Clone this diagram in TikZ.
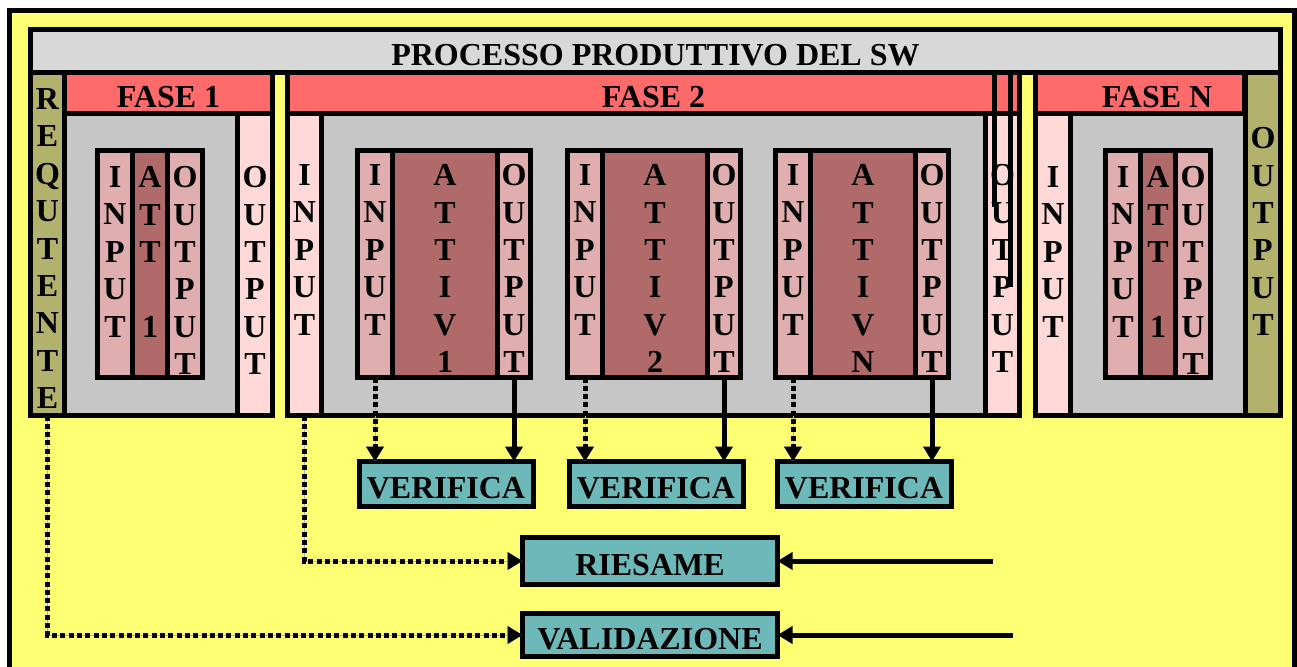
\documentclass[tikz,border=0pt]{standalone}
\usepackage{fontspec}
\setmainfont{Liberation Serif}
\usetikzlibrary{arrows.meta, positioning, calc}

\definecolor{giallo}{HTML}{FFFF73}
\definecolor{grigio}{HTML}{C6C6C6}
\definecolor{grigiochiaro}{HTML}{D8D8D8}
\definecolor{grigiolinea}{HTML}{B0B0B0}
\definecolor{rosso}{HTML}{FF6B6B}
\definecolor{rosachiaro}{HTML}{FFD8D8}
\definecolor{rosafitto}{HTML}{E0AEAE}
\definecolor{attiv}{HTML}{B06A6A}
\definecolor{oliva}{HTML}{B2B26C}
\definecolor{verde}{HTML}{6DB8B8}

\begin{document}
\begin{tikzpicture}[x=1pt, y=-1pt,
    box/.style={draw, line width=5pt, inner sep=0pt, outer sep=0pt, anchor=north west},
    etichetta/.style={font=\fontsize{32}{37.4}\selectfont\bfseries, text height=29pt, text depth=0pt},
    lettere/.style={font=\fontsize{32}{37.4}\selectfont\bfseries, align=center, anchor=north, inner sep=0pt},
    freccia/.style={line width=5pt, -{Triangle[length=15pt, width=17pt]}},
    puntini/.style={freccia, dash pattern=on 5pt off 3.3pt, preaction={draw=grigiolinea, solid}}
]
    \useasboundingbox (0,0) rectangle (1297,666);
    \fill[white] (0,0) rectangle (1297,666);

    % Cornice e titolo
    \node[box, fill=giallo, minimum width=1285pt, minimum height=680pt] (cornice) at (9.5,10.5) {};
    \node[box, fill=grigiochiaro, minimum width=1250pt, minimum height=43pt, etichetta] (titolo) at (30.5,29.5) {PROCESSO PRODUTTIVO DEL SW};

    % Requtente
    \node[box, fill=oliva, minimum width=34pt, minimum height=343pt] (requtente) at (30.5,72.5) {};
    \node[lettere] (requtente_t) at (47.5,88.4) {R\\E\\Q\\U\\T\\E\\N\\T\\E};

    % Fase 1
    \node[box, fill=grigio, minimum width=208pt, minimum height=343pt] (fase1) at (64.5,72.5) {};
    \node[box, fill=rosso, minimum width=208pt, minimum height=41pt, etichetta] (fase1h) at (64.5,72.5) {FASE 1};
    \node[box, fill=rosachiaro, minimum width=35pt, minimum height=302pt] (fase1out) at (237.5,113.5) {};
    \node[lettere] (fase1out_t) at (255,166.4) {O\\U\\T\\P\\U\\T};

    % Fase 2
    \node[box, fill=grigio, minimum width=732pt, minimum height=343pt] (fase2) at (287.5,72.5) {};
    \node[box, fill=rosso, minimum width=732pt, minimum height=41pt, etichetta] (fase2h) at (287.5,72.5) {FASE 2};
    \node[box, fill=rosachiaro, minimum width=34pt, minimum height=302pt] (fase2in) at (287.5,113.5) {};
    \node[lettere] (fase2in_t) at (304.5,164.4) {I\\N\\P\\U\\T};
    \node[box, fill=rosachiaro, minimum width=34pt, minimum height=302pt] (fase2out) at (985.5,113.5) {};
    \node[lettere] (fase2out_t) at (1002.5,164.4) {O\\U\\T\\P\\U\\T};
    \draw[line width=5pt] (994.5,75) -- (994.5,207);
    \draw[line width=5pt] (1010.5,75) -- (1010.5,287);

    % Fase N
    \node[box, fill=grigio, minimum width=245pt, minimum height=343pt] (faseN) at (1035.5,72.5) {};
    \node[box, fill=rosso, minimum width=209pt, minimum height=41pt] (faseNh) at (1035.5,72.5) {};
    \node[etichetta, inner sep=0pt] (faseN_t) at (1157,93) {FASE N};
    \node[box, fill=rosachiaro, minimum width=35pt, minimum height=302pt] (faseNin) at (1035.5,113.5) {};
    \node[lettere] (faseNin_t) at (1053,166.4) {I\\N\\P\\U\\T};
    \node[box, fill=oliva, minimum width=35pt, minimum height=343pt] (faseNout) at (1245.5,72.5) {};
    \node[lettere] (faseNout_t) at (1263,127.4) {O\\U\\T\\P\\U\\T};

    % Attivita' di fase 1 e fase N
    \foreach \x/\n in {95/1, 1103/N} {
        \node[box, fill=rosafitto, minimum width=35pt, minimum height=227pt] (f\n in) at (\x+2.5,150.5) {};
        \node[box, fill=attiv, minimum width=35pt, minimum height=227pt] (f\n att) at (\x+37.5,150.5) {};
        \node[box, fill=rosafitto, minimum width=35pt, minimum height=227pt] (f\n out) at (\x+72.5,150.5) {};
        \node[lettere] (f\n in_t) at (\x+20,166.4) {I\\N\\P\\U\\T};
        \node[lettere] (f\n att_t) at (\x+55,166.4) {A\\T\\T\\[37.4pt]1};
        \node[lettere] (f\n out_t) at (\x+90,166.4) {O\\U\\T\\P\\U\\T};
    }

    % Attivita' di fase 2 con verifica
    \foreach \x/\n/\k in {355/1/1, 565/2/2, 773/3/N} {
        \node[box, fill=rosafitto, minimum width=35pt, minimum height=227pt] (in\n) at (\x+2.5,150.5) {};
        \node[box, fill=attiv, minimum width=105pt, minimum height=227pt] (att\n) at (\x+37.5,150.5) {};
        \node[box, fill=rosafitto, minimum width=33pt, minimum height=227pt] (out\n) at (\x+142.5,150.5) {};
        \node[lettere] (in\n_t) at (\x+20,164.4) {I\\N\\P\\U\\T};
        \node[lettere] (att\n_t) at (\x+90,164.4) {A\\T\\T\\I\\V\\\k};
        \node[lettere] (out\n_t) at (\x+159,164.4) {O\\U\\T\\P\\U\\T};
        \node[box, anchor=center, fill=verde, minimum width=174pt, minimum height=45pt, etichetta] (ver\n) at (\x+91,484) {VERIFICA};
        \draw[puntini] (in\n.south) -- (in\n.south |- ver\n.north);
        \draw[freccia] (out\n.south) -- (out\n.south |- ver\n.north);
    }

    % Riesame e validazione
    \node[box, anchor=center, fill=verde, minimum width=255pt, minimum height=47pt, etichetta] (riesame) at (650,561) {RIESAME};
    \node[box, anchor=center, fill=verde, minimum width=255pt, minimum height=43pt, etichetta] (validazione) at (650,635) {VALIDAZIONE};
    \draw[puntini] (fase2in.south) |- (riesame.west);
    \draw[puntini] (requtente.south) |- (validazione.west);
    \coordinate (revisione) at (993,561);
    \coordinate (collaudo) at (1013,635);
    \draw[freccia] (revisione) -- (riesame.east);
    \draw[freccia] (collaudo) -- (validazione.east);
\end{tikzpicture}
\end{document}
